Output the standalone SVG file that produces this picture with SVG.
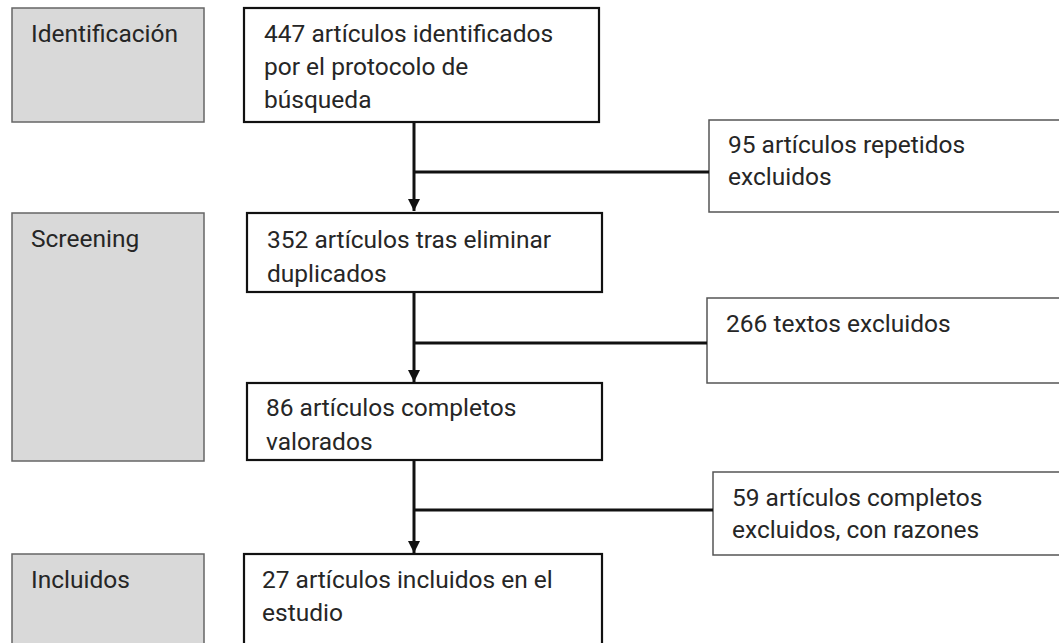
<svg xmlns="http://www.w3.org/2000/svg" width="1059" height="643" viewBox="0 0 1059 643">
<defs>
<style>
text{font-family:Roboto,"Liberation Sans",sans-serif;font-size:24.5px;fill:#262626}
.stage{fill:#d9d9d9;stroke:#666;stroke-width:1.5}
.main{fill:#fff;stroke:#111;stroke-width:2.2}
.side{fill:#fff;stroke:#555;stroke-width:1.5}
.conn{stroke:#111;stroke-width:3;fill:none}
</style>
<marker id="ah" viewBox="0 0 10 10" refX="10" refY="5" markerWidth="4" markerHeight="4" orient="auto" markerUnits="strokeWidth">
<path d="M0,0 L10,5 L0,10 z" fill="#111"/>
</marker>
</defs>
<rect width="1059" height="643" fill="#fff"/>
<g id="stage-identificacion"><rect class="stage" x="12" y="8" width="192" height="114"/><text x="31" y="42">Identificación</text></g>
<g id="stage-screening"><rect class="stage" x="12" y="213" width="192" height="248"/><text x="31" y="247">Screening</text></g>
<g id="stage-incluidos"><rect class="stage" x="12" y="554" width="192" height="100"/><text x="31" y="588">Incluidos</text></g>
<g id="n1"><rect class="main" x="244" y="8" width="355" height="114"/><text x="264" y="42">447 artículos identificados</text><text x="264" y="75">por el protocolo de</text><text x="264" y="108">búsqueda</text></g>
<g id="n2"><rect class="main" x="247" y="213" width="355" height="79"/><text x="267" y="248">352 artículos tras eliminar</text><text x="267" y="282">duplicados</text></g>
<g id="n3"><rect class="main" x="247" y="383" width="355" height="77"/><text x="266" y="416">86 artículos completos</text><text x="266" y="450">valorados</text></g>
<g id="n4"><rect class="main" x="244" y="554" width="358" height="100"/><text x="262" y="588">27 artículos incluidos en el</text><text x="262" y="621">estudio</text></g>
<g id="x1"><rect class="side" x="709" y="120" width="354" height="92"/><text x="728" y="153">95 artículos repetidos</text><text x="728" y="185">excluidos</text></g>
<g id="x2"><rect class="side" x="707" y="298" width="356" height="85"/><text x="726" y="332">266 textos excluidos</text></g>
<g id="x3"><rect class="side" x="713" y="472" width="350" height="83"/><text x="732" y="506">59 artículos completos</text><text x="732" y="538">excluidos, con razones</text></g>
<g id="connectors">
<path class="conn" d="M414,123 V211" marker-end="url(#ah)"/>
<path class="conn" d="M414,172 H709"/>
<path class="conn" d="M414,293 V382" marker-end="url(#ah)"/>
<path class="conn" d="M414,343 H707"/>
<path class="conn" d="M414,461 V553" marker-end="url(#ah)"/>
<path class="conn" d="M414,510 H713"/>
</g>
</svg>
